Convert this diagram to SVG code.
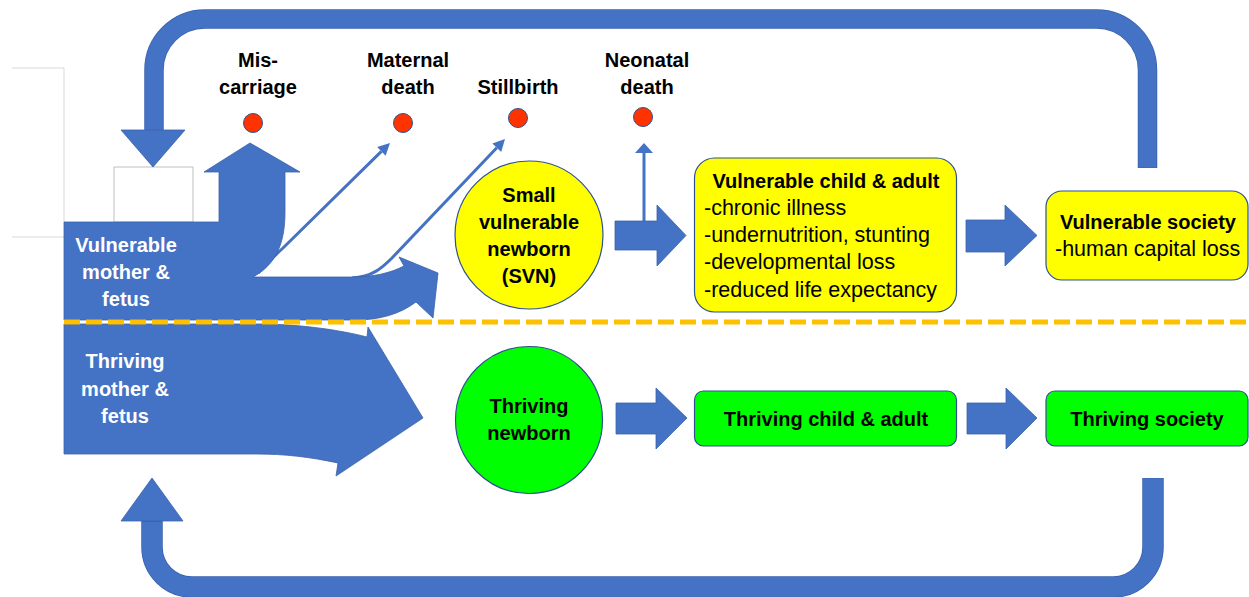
<svg xmlns="http://www.w3.org/2000/svg" width="1249" height="597" viewBox="0 0 1249 597">
<style>
.blue{fill:#4472C4;stroke:#3A62AC;stroke-width:0.8}
.band{fill:none;stroke:#4472C4;stroke-linejoin:round}
.bandline{fill:none;stroke:#3A62AC}
.thin{fill:none;stroke:#4472C4;stroke-width:3}
.yel{fill:#FFFF00;stroke:#2F528F;stroke-width:1.2}
.grn{fill:#00FF00;stroke:#2F528F;stroke-width:1.2}
.dot{fill:#FF3300;stroke:#2F528F;stroke-width:1}
.b{font-family:"Liberation Sans",Arial,sans-serif;font-weight:bold;font-size:20px;fill:#000}
.r{font-family:"Liberation Sans",Arial,sans-serif;font-size:21.5px;fill:#000}
.w{fill:#FFFFFF}
.c{text-anchor:middle}
</style>

<g id="frame-lines">
<path d="M12,68 H64 V222 M12,237 H64" fill="none" stroke="#D9D9D9" stroke-width="1"/>
<rect x="114" y="167" width="79" height="55" fill="#FFFFFF" stroke="#BFBFBF" stroke-width="1"/>
</g>

<g id="connectors">
<path class="bandline" stroke-width="19.5" d="M1147.5,168 V70 A51,51 0 0 0 1096.5,19 H205 A51,51 0 0 0 154,70 V131"/>
<path class="band" stroke-width="18" d="M1147.5,167.5 V70 A51,51 0 0 0 1096.5,19 H205 A51,51 0 0 0 154,70 V132"/>
<polygon class="blue" points="121,130 185,130 153,167"/>
<path class="bandline" stroke-width="21.5" d="M1153,478 V547 A40,40 0 0 1 1113,587 H192 A40,40 0 0 1 152,547 V520"/>
<path class="band" stroke-width="20" d="M1153,478.5 V547 A40,40 0 0 1 1113,587 H192 A40,40 0 0 1 152,547 V522"/>
<polygon class="blue" points="121,521 183,521 152,478"/>
<path class="thin" d="M258,273 Q270,260 283,248 L381.4,151.4"/>
<polygon fill="#4472C4" points="390,143 385.6,155.7 377.2,147.1"/>
<path class="thin" d="M352,278 C372,277 382,268 392,258 L496.8,147.8"/>
<polygon fill="#4472C4" points="505,139 501.2,151.9 492.4,143.6"/>
<path class="thin" d="M644,222 V152"/>
<polygon fill="#4472C4" points="635,153 653,153 644,143"/>
<polygon class="blue" points="615,221 657,221 657,205 686,235.5 657,266 657,250 615,250"/>
<polygon class="blue" points="966,220 1005,220 1005,205 1037,235.5 1005,266 1005,252 966,252"/>
<polygon class="blue" points="616,403 656,403 656,388 687,418 656,449 656,434 616,434"/>
<polygon class="blue" points="967,403 1006,403 1006,388 1037,418 1006,449 1006,434 967,434"/>
</g>

<g id="vulnerable-mother">
<path class="blue" d="M64,222 H219 V172 H204 L250,143 L300,172 H285 V212 C285,245 275,265 253,277 H352 C374,277 390,273 404,266 L399,257 L438,273 L433,318 L416,302 C400,314 380,320 355,320 H64 Z"/>
<text class="b w c" x="126" y="252">Vulnerable</text>
<text class="b w c" x="126" y="279">mother &amp;</text>
<text class="b w c" x="126" y="306">fetus</text>
</g>

<g id="thriving-mother">
<path class="blue" d="M64,324 H257 C300,324 340,330 367,337 L368,327 L423,418 L336,476 L338,463 C310,457 285,454 257,454 H64 Z"/>
<text class="b w c" x="125" y="368">Thriving</text>
<text class="b w c" x="125" y="396">mother &amp;</text>
<text class="b w c" x="125" y="423">fetus</text>
</g>

<g id="divider">
<path d="M64,322 H1249" stroke="#FFC000" stroke-width="5" stroke-dasharray="16 6" fill="none"/>
</g>

<g id="miscarriage">
<text class="b c" x="258" y="67">Mis-</text>
<text class="b c" x="258" y="94">carriage</text>
<circle class="dot" cx="253" cy="123" r="9.5"/>
</g>
<g id="maternal-death">
<text class="b c" x="408" y="67">Maternal</text>
<text class="b c" x="408" y="94">death</text>
<circle class="dot" cx="403" cy="123" r="9.5"/>
</g>
<g id="stillbirth">
<text class="b c" x="518" y="94">Stillbirth</text>
<circle class="dot" cx="518" cy="118" r="9.5"/>
</g>
<g id="neonatal-death">
<text class="b c" x="647" y="67">Neonatal</text>
<text class="b c" x="647" y="94">death</text>
<circle class="dot" cx="643" cy="117" r="9.5"/>
</g>

<g id="svn">
<circle class="yel" cx="529" cy="235" r="74"/>
<text class="b c" x="529" y="202">Small</text>
<text class="b c" x="529" y="229">vulnerable</text>
<text class="b c" x="529" y="256">newborn</text>
<text class="b c" x="529" y="283">(SVN)</text>
</g>

<g id="thriving-newborn">
<circle class="grn" cx="529" cy="420" r="73.5"/>
<text class="b c" x="529" y="413">Thriving</text>
<text class="b c" x="529" y="440">newborn</text>
</g>

<g id="vulnerable-child">
<rect class="yel" x="694.5" y="158" width="262" height="154" rx="20"/>
<text class="b c" x="826" y="188">Vulnerable child &amp; adult</text>
<text class="r" x="704" y="215">-chronic illness</text>
<text class="r" x="704" y="242">-undernutrition, stunting</text>
<text class="r" x="704" y="269">-developmental loss</text>
<text class="r" x="704" y="297">-reduced life expectancy</text>
</g>

<g id="vulnerable-society">
<rect class="yel" x="1046" y="191" width="202" height="89" rx="16"/>
<text class="b c" x="1148" y="229">Vulnerable society</text>
<text class="r" x="1055" y="256">-human capital loss</text>
</g>

<g id="thriving-child">
<rect class="grn" x="694.5" y="391" width="262" height="55" rx="9"/>
<text class="b c" x="826" y="426">Thriving child &amp; adult</text>
</g>

<g id="thriving-society">
<rect class="grn" x="1046" y="391" width="202" height="55" rx="9"/>
<text class="b c" x="1147" y="426">Thriving society</text>
</g>
</svg>
